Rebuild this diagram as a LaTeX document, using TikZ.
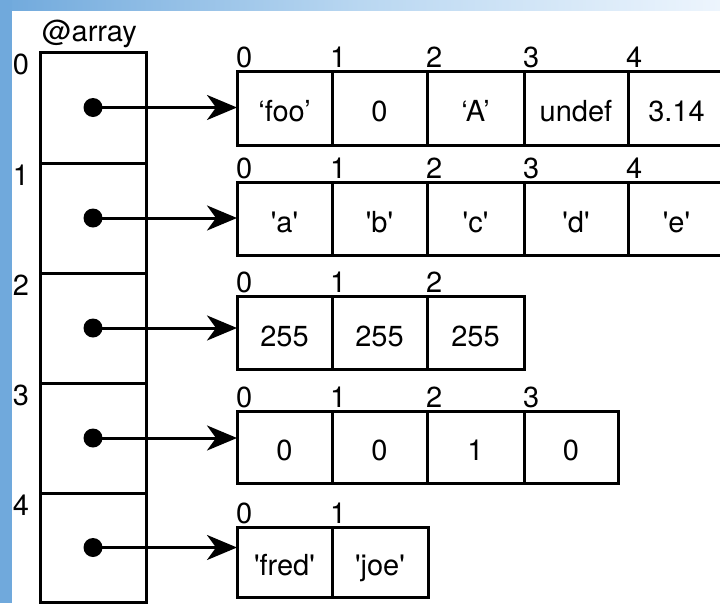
\documentclass[tikz,border=0pt]{standalone}
\usepackage{fontspec}
\setmainfont{TeX Gyre Heros}
\usetikzlibrary{arrows.meta}
\definecolor{bandblue}{HTML}{70A9DC}
\definecolor{bandmid}{HTML}{B9D7F1}
\definecolor{bandlight}{HTML}{EDF5FD}
\newcommand{\sq}{\textquotesingle}
\tikzset{
  lbl/.style={font=\fontsize{29}{33}\selectfont, inner sep=0pt},
  slotbox/.style={draw, line width=3pt, minimum width=106pt, inner sep=0pt, outer sep=0pt},
  cellbox/.style={draw, line width=3pt, inner sep=0pt, outer sep=0pt, text height=27pt, text depth=0pt, font=\fontsize{29}{33}\selectfont},
  dotnode/.style={circle, fill, minimum size=19pt, inner sep=0pt},
  ptr/.style={line width=3pt, -{Stealth[length=30pt, width=25pt, inset=9pt]}},
  idx/.style={lbl, anchor=base west},
  side/.style={lbl, anchor=north}
}
\begin{document}
\begin{tikzpicture}[x=1pt, y=-1pt]
\useasboundingbox (0,0) rectangle (720,603);
\clip (0,0) rectangle (720,603);
% background frame
\fill[white] (0,0) rectangle (720,603);
\shade[left color=bandblue, right color=bandlight, middle color=bandmid] (0,0) rectangle (720,10);
\fill[bandblue] (0,0) rectangle (12,603);

% @array column
\node[lbl, anchor=base west] (title) at (42,41) {@array};
\node[slotbox, minimum height=111pt] (c0) at (93,107.5) {};
\node[slotbox, minimum height=110pt] (c1) at (93,218) {};
\node[slotbox, minimum height=110pt] (c2) at (93,328) {};
\node[slotbox, minimum height=110pt] (c3) at (93,438) {};
\node[slotbox, minimum height=109pt] (c4) at (93,547.5) {};
\node[side] (s0) at (21,54) {0};
\node[side] (s1) at (21,165) {1};
\node[side] (s2) at (21,275) {2};
\node[side] (s3) at (21,385) {3};
\node[side] (s4) at (21,495) {4};

\node[dotnode] (d0) at (c0.center) {};
\node[dotnode] (d1) at (c1.center) {};
\node[dotnode] (d2) at (c2.center) {};
\node[dotnode] (d3) at (c3.center) {};
\node[dotnode] (d4) at (c4.center) {};

% row 0
\node[cellbox, minimum width=95pt, minimum height=74pt] (a00) at (284.5,108) {‘foo’};
\node[cellbox, minimum width=95pt, minimum height=74pt] (a01) at (379.5,108) {0};
\node[cellbox, minimum width=97pt, minimum height=74pt] (a02) at (475.5,108) {‘A’};
\node[cellbox, minimum width=104pt, minimum height=74pt] (a03) at (576,108) {undef};
\node[cellbox, minimum width=97pt, minimum height=74pt] (a04) at (676.5,108) {3.14};
\node[idx] (i00) at (236,67) {0};
\node[idx] (i01) at (330,67) {1};
\node[idx] (i02) at (426,67) {2};
\node[idx] (i03) at (523,67) {3};
\node[idx] (i04) at (626,67) {4};

% row 1
\node[cellbox, minimum width=95pt, minimum height=73pt] (a10) at (284.5,218.5) {\sq a\sq};
\node[cellbox, minimum width=95pt, minimum height=73pt] (a11) at (379.5,218.5) {\sq b\sq};
\node[cellbox, minimum width=97pt, minimum height=73pt] (a12) at (475.5,218.5) {\sq c\sq};
\node[cellbox, minimum width=104pt, minimum height=73pt] (a13) at (576,218.5) {\sq d\sq};
\node[cellbox, minimum width=97pt, minimum height=73pt] (a14) at (676.5,218.5) {\sq e\sq};
\node[idx] (i10) at (236,178) {0};
\node[idx] (i11) at (330,178) {1};
\node[idx] (i12) at (426,178) {2};
\node[idx] (i13) at (523,178) {3};
\node[idx] (i14) at (626,178) {4};

% row 2
\node[cellbox, minimum width=95pt, minimum height=73pt] (a20) at (284.5,332.5) {255};
\node[cellbox, minimum width=95pt, minimum height=73pt] (a21) at (379.5,332.5) {255};
\node[cellbox, minimum width=97pt, minimum height=73pt] (a22) at (475.5,332.5) {255};
\node[idx] (i20) at (236,292) {0};
\node[idx] (i21) at (330,292) {1};
\node[idx] (i22) at (426,292) {2};

% row 3
\node[cellbox, minimum width=95pt, minimum height=72pt] (a30) at (284.5,447) {0};
\node[cellbox, minimum width=95pt, minimum height=72pt] (a31) at (379.5,447) {0};
\node[cellbox, minimum width=97pt, minimum height=72pt] (a32) at (475.5,447) {1};
\node[cellbox, minimum width=94pt, minimum height=72pt] (a33) at (571,447) {0};
\node[idx] (i30) at (236,407) {0};
\node[idx] (i31) at (330,407) {1};
\node[idx] (i32) at (426,407) {2};
\node[idx] (i33) at (523,407) {3};

% row 4
\node[cellbox, minimum width=95pt, minimum height=70pt] (a40) at (284.5,562) {\sq fred\sq};
\node[cellbox, minimum width=96pt, minimum height=70pt] (a41) at (380,562) {\sq joe\sq};
\node[idx] (i40) at (236,523) {0};
\node[idx] (i41) at (330,523) {1};

% pointers
\draw[ptr] (d0.center) -- (d0.center -| a00.west);
\draw[ptr] (d1.center) -- (d1.center -| a10.west);
\draw[ptr] (d2.center) -- (d2.center -| a20.west);
\draw[ptr] (d3.center) -- (d3.center -| a30.west);
\draw[ptr] (d4.center) -- (d4.center -| a40.west);
\end{tikzpicture}
\end{document}
